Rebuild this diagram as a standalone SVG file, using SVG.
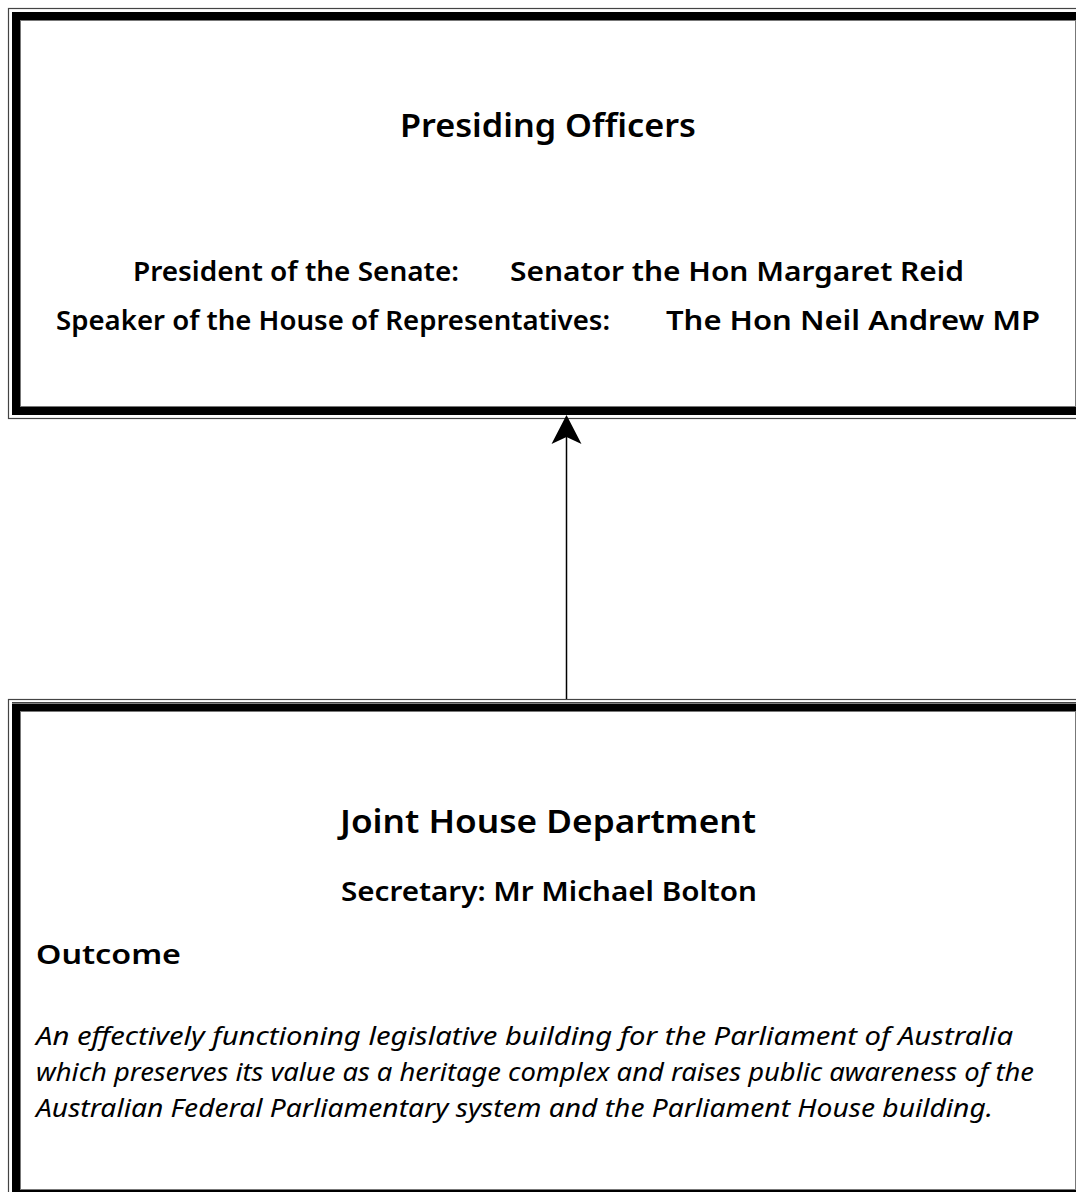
<svg xmlns="http://www.w3.org/2000/svg" width="1076" height="1192" viewBox="0 0 1076 1192">
<style>
.bg{fill:#fff}
.thin{fill:none;stroke:#444;stroke-width:1.2}
.thick{fill:none;stroke:#000;stroke-width:8}
.inner{fill:none;stroke:#777;stroke-width:1}
.t{font-family:"Noto Sans","Open Sans","DejaVu Sans",sans-serif;fill:#000}
.title{font-size:32px;font-weight:600}
.sub{font-size:27px;font-weight:600}
.body{font-size:25px;font-style:italic}
.conn{stroke:#000;stroke-width:1.5;fill:none}
</style>
<rect class="bg" x="0" y="0" width="1076" height="1192"/>
<g id="presiding-officers">
  <rect class="thin" x="8.5" y="8.5" width="1090" height="410"/>
  <rect class="thick" x="16" y="16" width="1064" height="395"/>
  <rect class="inner" x="20.5" y="20.5" width="1055" height="386"/>
  <text class="t title" x="400" y="137" textLength="296" lengthAdjust="spacingAndGlyphs">Presiding Officers</text>
  <text class="t sub" x="133" y="281" textLength="326" lengthAdjust="spacingAndGlyphs">President of the Senate:</text>
  <text class="t sub" x="510" y="281" textLength="454" lengthAdjust="spacingAndGlyphs">Senator the Hon Margaret Reid</text>
  <text class="t sub" x="56" y="330" textLength="554" lengthAdjust="spacingAndGlyphs">Speaker of the House of Representatives:</text>
  <text class="t sub" x="666" y="330" textLength="374" lengthAdjust="spacingAndGlyphs">The Hon Neil Andrew MP</text>
</g>
<g id="joint-house-department">
  <rect class="thin" x="8.5" y="699.5" width="1090" height="520"/>
  <line class="thin" x1="12" y1="702.5" x2="1090" y2="702.5"/>
  <rect class="thick" x="16" y="707.5" width="1064" height="486.5"/>
  <rect class="inner" x="20.5" y="711.5" width="1055" height="478"/>
  <text class="t title" x="340" y="833" textLength="416" lengthAdjust="spacingAndGlyphs">Joint House Department</text>
  <text class="t sub" x="341" y="901" textLength="416" lengthAdjust="spacingAndGlyphs">Secretary: Mr Michael Bolton</text>
  <text class="t sub" x="36" y="964" textLength="145" lengthAdjust="spacingAndGlyphs">Outcome</text>
  <text class="t body" x="36" y="1045" textLength="977" lengthAdjust="spacingAndGlyphs">An effectively functioning legislative building for the Parliament of Australia</text>
  <text class="t body" x="36" y="1081" textLength="998" lengthAdjust="spacingAndGlyphs">which preserves its value as a heritage complex and raises public awareness of the</text>
  <text class="t body" x="36" y="1117" textLength="957" lengthAdjust="spacingAndGlyphs">Australian Federal Parliamentary system and the Parliament House building.</text>
</g>
<g id="connectors">
  <line class="conn" x1="566.5" y1="436" x2="566.5" y2="699"/>
  <polygon points="566.5,415 581.5,444 566.5,437 551.5,444" fill="#000"/>
</g>
</svg>
